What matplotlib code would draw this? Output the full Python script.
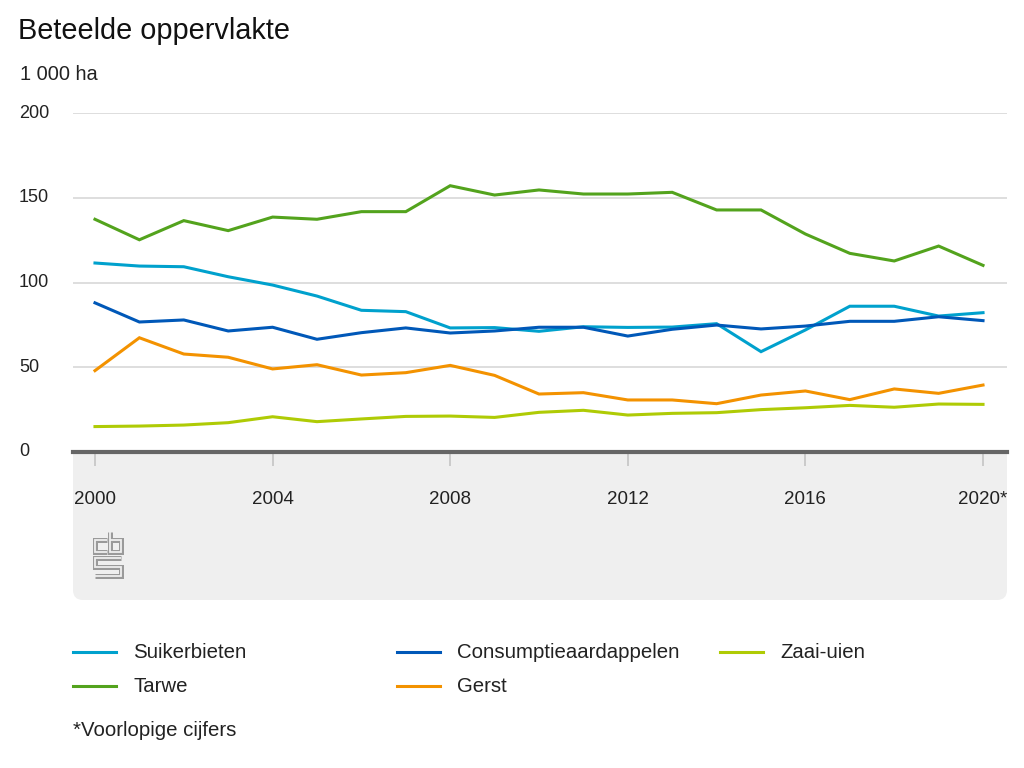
import matplotlib
matplotlib.use('Agg')
import matplotlib.pyplot as plt
from matplotlib.patches import FancyBboxPatch, Rectangle
from matplotlib.lines import Line2D
from matplotlib.transforms import IdentityTransform, blended_transform_factory

plt.rcParams['font.family'] = ['Liberation Sans', 'DejaVu Sans']

# --- gegevens (1 000 ha) ---
jaren = list(range(2000, 2021))
suikerbieten = [111.5, 109.7, 109.3, 103.4, 98.5, 92.0, 83.6, 82.8, 73.2, 73.4, 71.2,
                73.9, 73.5, 73.7, 75.7, 59.2, 72.0, 86.0, 86.0, 80.2, 82.2]
consumptieaardappelen = [88.0, 76.7, 77.9, 71.4, 73.6, 66.5, 70.4, 73.2, 70.2, 71.4, 73.6,
                         73.6, 68.4, 72.4, 74.9, 72.6, 74.3, 77.1, 77.1, 79.8, 77.5]
zaai_uien = [15.0, 15.3, 15.9, 17.3, 20.8, 17.9, 19.5, 21.0, 21.2, 20.4, 23.4,
             24.6, 21.8, 22.8, 23.2, 25.0, 26.1, 27.5, 26.4, 28.3, 28.1]
tarwe = [137.3, 125.2, 136.5, 130.6, 138.6, 137.3, 141.8, 141.8, 157.1, 151.6, 154.6,
         152.2, 152.2, 153.2, 142.8, 142.8, 128.6, 117.2, 112.7, 121.5, 110.1]
gerst = [48.0, 67.4, 57.8, 55.9, 49.0, 51.5, 45.4, 46.8, 51.1, 45.2, 34.2,
         35.0, 30.7, 30.7, 28.5, 33.6, 36.0, 30.9, 37.2, 34.6, 39.5]

reeksen = ['Suikerbieten', 'Consumptieaardappelen', 'Zaai-uien', 'Tarwe', 'Gerst']
waarden = [suikerbieten, consumptieaardappelen, zaai_uien, tarwe, gerst]
kleuren = ['#00a1cd', '#0058b8', '#afcb05', '#53a31d', '#f39200']

x_ticks = [2000, 2004, 2008, 2012, 2016, 2020]
x_labels = ['2000', '2004', '2008', '2012', '2016', '2020*']
y_ticks = [0, 50, 100, 150, 200]

W, H = 1024, 768
fig = plt.figure(figsize=(W / 100, H / 100), dpi=100)
pix = IdentityTransform()

# plotgebied (pixels: x 73..1007, y 113..452)
ax = fig.add_axes([73 / W, (H - 452) / H, 934 / W, 339 / H])
ax.set_xlim(1999.505, 2020.54)
ax.set_ylim(0, 200)

# grijze onderbalk met ronde hoeken
box = FancyBboxPatch((73, H - 600), 934, 148, boxstyle='round,pad=0,rounding_size=10',
                     transform=pix, facecolor='#efefef', edgecolor='none', zorder=-2)
fig.patches.append(box)
fig.patches.append(Rectangle((73, H - 480), 934, 28, transform=pix,
                             facecolor='#efefef', edgecolor='none', zorder=-2))

for v in y_ticks[1:]:
    ax.axhline(v, color='#d4d4d4', lw=1.1, zorder=1)

for naam, y, kleur in zip(reeksen, waarden, kleuren):
    ax.plot(jaren, y, color=kleur, lw=2.2, zorder=3, solid_joinstyle='miter')

for s in ax.spines.values():
    s.set_visible(False)
ax.axhline(0, color='#666666', lw=3, zorder=4, clip_on=False)

ax.set_yticks([])
ax.set_xticks(x_ticks)
ax.set_xticklabels(x_labels, fontsize=13.5, color='#222222')
ax.tick_params(axis='x', length=10, width=1.2, color='#c4c4c4', pad=18)

# y-labels links uitgelijnd
trans = blended_transform_factory(pix, ax.transData)
for v in y_ticks:
    ax.text(19, v, str(v), transform=trans, ha='left', va='center',
            fontsize=13, color='#222222')

# titels
fig.text(18, H - 31, 'Beteelde oppervlakte', transform=pix, ha='left', va='center',
         fontsize=20.8, color='#111111')
fig.text(20, H - 75, '1 000 ha', transform=pix, ha='left', va='center',
         fontsize=14.4, color='#222222')

# cbs-logo
logo_paden = [
    [(107, 540), (95, 540), (95, 552), (107, 552)],
    [(110, 532), (110, 552), (121, 552), (121, 540), (110, 540)],
    [(121, 558), (95, 558), (95, 566.5), (121, 566.5), (121, 575.5), (95, 575.5)],
]
for pad in logo_paden:
    xs = [p[0] for p in pad]
    ys = [H - p[1] for p in pad]
    fig.add_artist(Line2D(xs, ys, transform=pix, color='#9a9a9a', lw=3.6,
                          solid_joinstyle='miter', solid_capstyle='butt'))
    fig.add_artist(Line2D(xs, ys, transform=pix, color='#efefef', lw=1.3,
                          solid_joinstyle='miter', solid_capstyle='butt'))

# legenda
kolommen = [73, 397, 720]
rijen = [652, 686]
for i, (naam, kleur) in enumerate(zip(reeksen, kleuren)):
    lx = kolommen[i % 3]
    ly = H - rijen[i // 3]
    fig.add_artist(Line2D([lx, lx + 43], [ly, ly], transform=pix, color=kleur, lw=2.2))
    fig.text(lx + 60, ly, naam, transform=pix, ha='left', va='center',
             fontsize=14.7, color='#222222')

fig.text(73, H - 730, '*Voorlopige cijfers', transform=pix, ha='left', va='center',
         fontsize=14.7, color='#222222')

fig.savefig('out.png', dpi=100, facecolor='white')
